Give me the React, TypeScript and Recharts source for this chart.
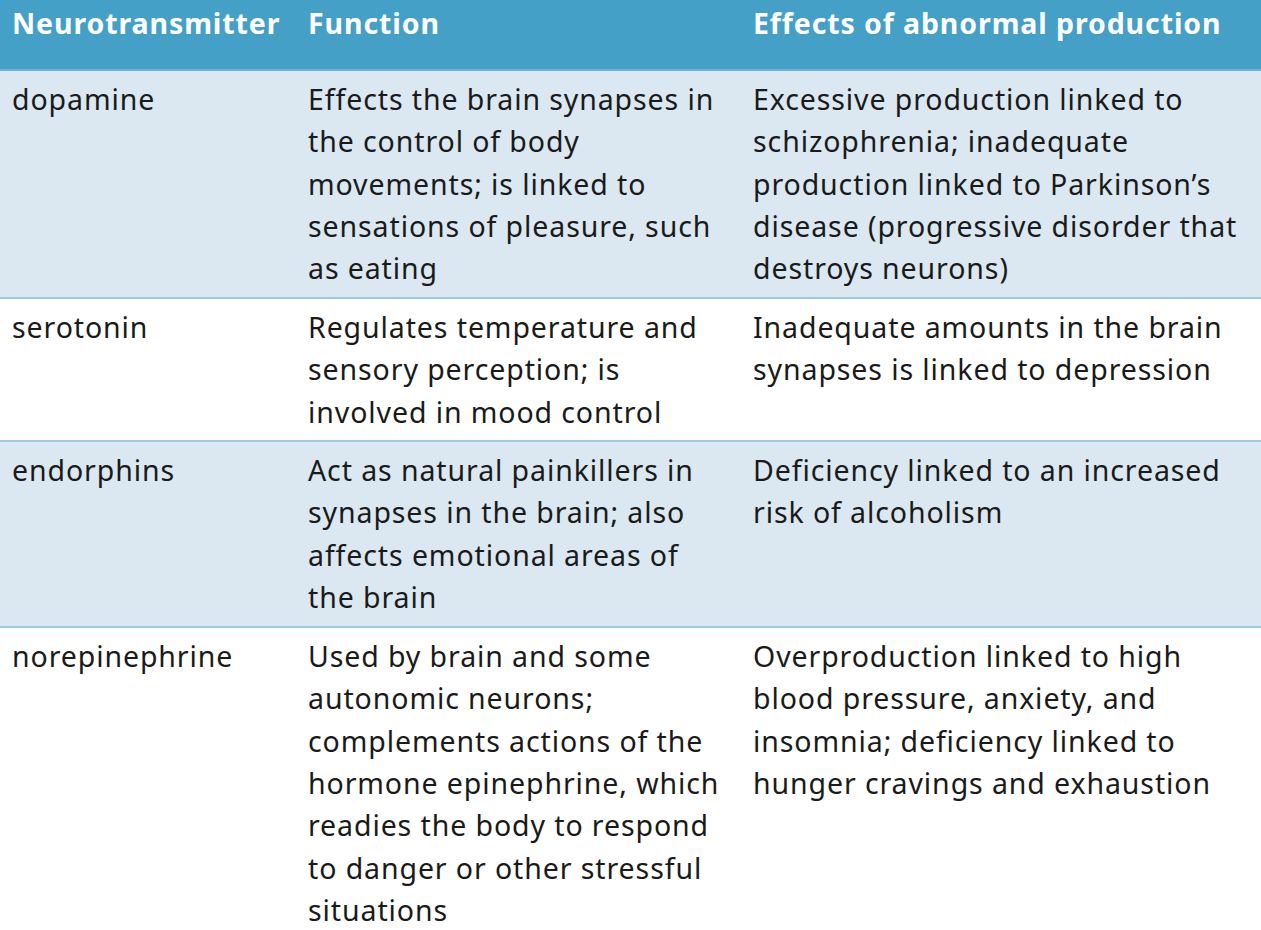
import React from "react";
import { BarChart, Bar, XAxis, YAxis } from "recharts";

const headers = ["Neurotransmitter", "Function", "Effects of abnormal production"];
const rowNames = ["header", "dopamine", "serotonin", "endorphins", "norepinephrine"];
// row heights in px
const rowHeights = [70, 228, 143, 186, 303];
const rowFills = ["#44a0c6", "#dbe8f1", "#ffffff", "#dbe8f1", "#ffffff"];

const functionLines = [
  ["Effects the brain synapses in", "the control of body", "movements; is linked to", "sensations of pleasure, such", "as eating"],
  ["Regulates temperature and", "sensory perception; is", "involved in mood control"],
  ["Act as natural painkillers in", "synapses in the brain; also", "affects emotional areas of", "the brain"],
  ["Used by brain and some", "autonomic neurons;", "complements actions of the", "hormone epinephrine, which", "readies the body to respond", "to danger or other stressful", "situations"],
];
const effectLines = [
  ["Excessive production linked to", "schizophrenia; inadequate", "production linked to Parkinson\u2019s", "disease (progressive disorder that", "destroys neurons)"],
  ["Inadequate amounts in the brain", "synapses is linked to depression"],
  ["Deficiency linked to an increased", "risk of alcoholism"],
  ["Overproduction linked to high", "blood pressure, anxiety, and", "insomnia; deficiency linked to", "hunger cravings and exhaustion"],
];

const data = [
  rowNames.reduce((acc, name, i) => ({ ...acc, [name]: rowHeights[i] }), { cat: "table" } as Record<string, string | number>),
];

const COLX = [12, 308, 753];
const LINE = 42.3;
const FONT = "'Noto Sans', 'Open Sans', sans-serif";

function makeShape(i: number) {
  return (props: any) => {
    const { x, y, width, height } = props;
    const top = Math.min(y, y + height);
    const h = Math.abs(height);
    const cells: string[][] =
      i === 0 ? headers.map((t) => [t]) : [[rowNames[i]], functionLines[i - 1], effectLines[i - 1]];
    return (
      <g>
        <rect x={x} y={top} width={width} height={h} fill={rowFills[i]} />
        {i > 0 && <line x1={x} x2={x + width} y1={top} y2={top} stroke={i === 1 ? "#6fb3d2" : "#9ccbe0"} strokeWidth={2} />}
        {cells.map((lines, c) =>
          lines.map((t, k) => (
            <text
              key={c + "-" + k}
              x={x + COLX[c]}
              y={top + (i === 0 ? 23 : 29) + k * LINE}
              dominantBaseline="central"
              fontFamily={FONT}
              fontSize={28.5}
              letterSpacing={0.9}
              fontWeight={i === 0 ? 700 : 400}
              fill={i === 0 ? "#ffffff" : "#1a1a1a"}
            >
              {t}
            </text>
          ))
        )}
      </g>
    );
  };
}

export default function App() {
  if (typeof document !== "undefined") document.body.style.margin = "0";
  return (
    <BarChart
      width={1261}
      height={930}
      data={data}
      margin={{ top: 0, right: 0, bottom: 0, left: 0 }}
      barCategoryGap={0}
      style={{ background: "#fff" }}
    >
      <XAxis dataKey="cat" hide />
      <YAxis hide reversed domain={[0, 930]} type="number" allowDataOverflow />
      {rowNames.map((name, i) => (
        <Bar key={name} dataKey={name} stackId="t" isAnimationActive={false} shape={makeShape(i)} />
      ))}
    </BarChart>
  );
}
